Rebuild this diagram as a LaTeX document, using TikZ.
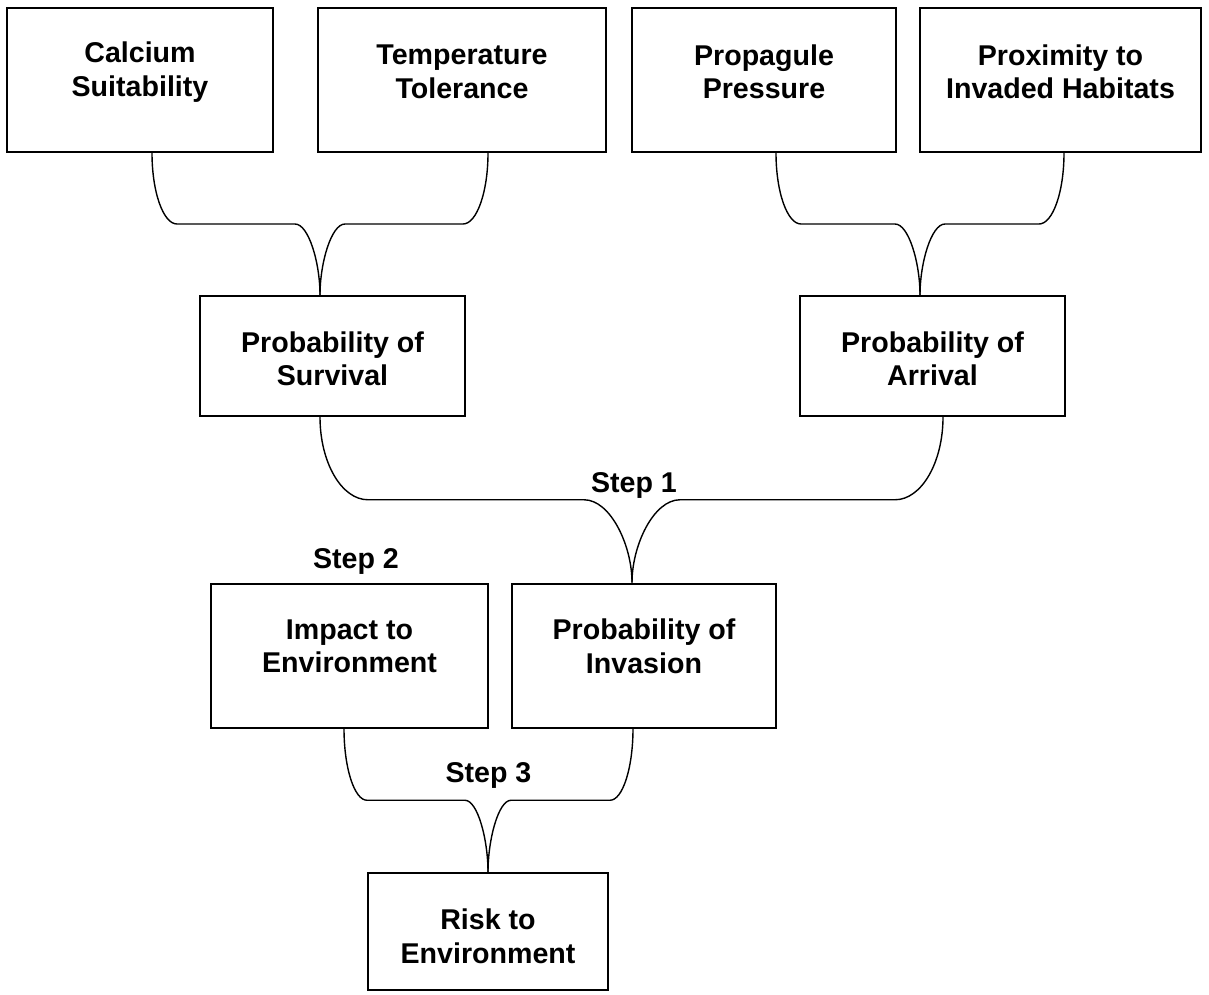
\documentclass[tikz,border=0pt]{standalone}
\usepackage{fontspec}
\setmainfont{Liberation Sans}
\usetikzlibrary{calc}

\tikzset{
  factor/.style={draw, line width=2pt, inner sep=0pt},
  caption/.style={align=center, inner sep=0pt, font=\fontsize{28.6}{33.5}\selectfont\bfseries},
  link/.style={line width=1.4pt},
  steplabel/.style={anchor=base, font=\fontsize{28.6}{33.5}\selectfont\bfseries}
}

% brace from a parent end (#2) down to a child end (#3), #1 = width of the bends
\newcommand{\fork}[3][25]{%
  \draw[link] let \p1=(#2), \p2=(#3), \n1={(\y1+\y2)/2}, \n2={sign(\x2-\x1)*#1} in
    (\p1) .. controls (\x1,{\y1+0.55*(\n1-\y1)}) and ({\x1+0.45*(\n2)},\n1) .. ({\x1+\n2},\n1)
    -- ({\x2-\n2},\n1) .. controls ({\x2-0.45*(\n2)},\n1) and (\x2,{\n1+0.55*(\y2-\n1)}) .. (\p2);}

\begin{document}
\begin{tikzpicture}[x=1pt,y=1pt]
  \useasboundingbox (0,0) rectangle (1209,-994);

  % top row
  \node[factor, minimum width=266pt, minimum height=144pt,
    label={[caption, yshift=8pt]center:Calcium\\Suitability}] (calc) at (140,-80) {};
  \node[factor, minimum width=288pt, minimum height=144pt,
    label={[caption, yshift=8pt]center:Temperature\\Tolerance}] (temp) at (462,-80) {};
  \node[factor, minimum width=264pt, minimum height=144pt,
    label={[caption, yshift=8pt]center:Propagule\\Pressure}] (prop) at (764,-80) {};
  \node[factor, minimum width=281pt, minimum height=144pt,
    label={[caption, yshift=8pt]center:Proximity to\\Invaded Habitats}] (prox) at (1060.5,-80) {};

  % second row
  \node[factor, minimum width=265pt, minimum height=120pt,
    label={[caption, yshift=-3pt]center:Probability of\\Survival}] (surv) at (332.5,-356) {};
  \node[factor, minimum width=265pt, minimum height=120pt,
    label={[caption, yshift=-3pt]center:Probability of\\Arrival}] (arr) at (932.5,-356) {};

  % third row
  \node[factor, minimum width=277pt, minimum height=144pt,
    label={[caption, yshift=9pt]center:Impact to\\Environment}] (imp) at (349.5,-655.5) {};
  \node[factor, minimum width=264pt, minimum height=144pt,
    label={[caption, yshift=9pt]center:Probability of\\Invasion}] (inv) at (644,-655.5) {};

  \node[factor, minimum width=240pt, minimum height=117pt,
    label={[caption, yshift=-5pt]center:Risk to\\Environment}] (risk) at (488,-931.5) {};

  % steps
  \node[steplabel] (step1) at (634,-492) {Step 1};
  \node[steplabel] (step2) at (356,-568) {Step 2};
  \node[steplabel] (step3) at (488.5,-782) {Step 3};

  % braces
  \fork{[xshift=12pt]calc.south}{[xshift=-12.5pt]surv.north}
  \fork{[xshift=26pt]temp.south}{[xshift=-12.5pt]surv.north}
  \fork{[xshift=12pt]prop.south}{[xshift=-12.5pt]arr.north}
  \fork{[xshift=3.5pt]prox.south}{[xshift=-12.5pt]arr.north}
  \fork[48]{[xshift=-12.5pt]surv.south}{[xshift=-12pt]inv.north}
  \fork[48]{[xshift=10.5pt]arr.south}{[xshift=-12pt]inv.north}
  \fork[23]{[xshift=-5.5pt]imp.south}{risk.north}
  \fork[23]{[xshift=-11pt]inv.south}{risk.north}
\end{tikzpicture}
\end{document}
